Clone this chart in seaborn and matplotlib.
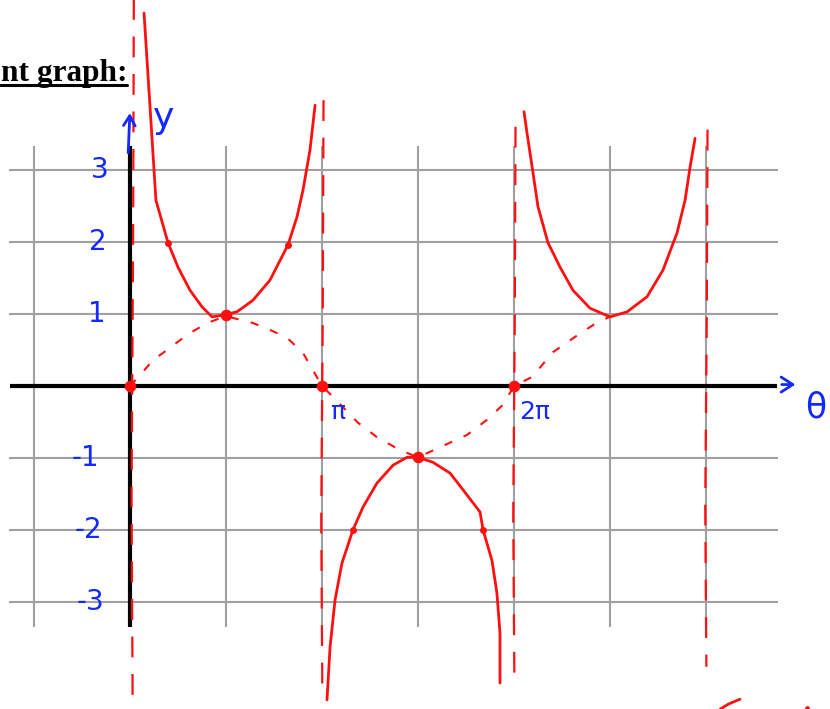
import matplotlib
matplotlib.use("Agg")
import matplotlib.pyplot as plt
import numpy as np
import pandas as pd
import seaborn as sns

# ---- data (theta in multiples of pi, y in units) ----
grid_x = [-0.5, 0.0, 0.5, 1.0, 1.5, 2.0, 2.5, 3.0]
grid_y = [-3, -2, -1, 1, 2, 3]

# upper branch on (0, pi)
b1_x = [0.073, 0.104, 0.135, 0.198, 0.25, 0.3125, 0.375, 0.427, 0.495, 0.557,
        0.64, 0.729, 0.823, 0.870, 0.901, 0.9375, 0.964]
b1_y = [5.18, 3.89, 2.58, 1.99, 1.65, 1.33, 1.10, 0.96, 0.99, 1.03,
        1.19, 1.47, 1.96, 2.35, 2.72, 3.28, 3.90]

# lower branch on (pi, 2pi)
b2_x = [1.026, 1.042, 1.068, 1.104, 1.161, 1.214, 1.286, 1.370, 1.443, 1.5,
        1.578, 1.667, 1.734, 1.823, 1.839, 1.885, 1.911, 1.927, 1.927]
b2_y = [-4.36, -3.625, -2.97, -2.46, -2.0, -1.68, -1.35, -1.10, -0.99, -0.99,
        -1.06, -1.21, -1.44, -1.75, -2.0, -2.42, -2.875, -3.43, -4.125]

# upper branch on (2pi, 3pi)
b3_x = [2.052, 2.068, 2.099, 2.125, 2.177, 2.240, 2.307, 2.396, 2.5, 2.589,
        2.693, 2.776, 2.849, 2.891, 2.917, 2.943]
b3_y = [3.81, 3.51, 2.96, 2.49, 1.99, 1.65, 1.33, 1.08, 0.96, 1.03,
        1.24, 1.61, 2.125, 2.58, 3.04, 3.44]

# start of the next branch past 3pi
b4_x = [3.073, 3.115, 3.177]
b4_y = [-4.49, -4.42, -4.35]

# guide sine curve
sin_x = [0, 0.052, 0.12, 0.193, 0.297, 0.401, 0.5, 0.64, 0.729, 0.818, 0.901, 1.0,
         1.057, 1.1875, 1.286, 1.406, 1.5, 1.615, 1.755, 1.859, 1.943, 2.0,
         2.094, 2.203, 2.333, 2.4375, 2.5]
sin_y = [0, 0.15, 0.36, 0.5, 0.71, 0.875, 0.97, 0.875, 0.78, 0.67, 0.46, 0,
         -0.15, -0.51, -0.71, -0.89, -0.99, -0.85, -0.68, -0.47, -0.26, 0,
         0.125, 0.47, 0.71, 0.89, 0.96]

# vertical asymptotes: position, top, bottom
asym_x = [0.012, 1.0, 2.0, 3.0]
asym_top = [5.4, 3.97, 3.6, 3.56]
asym_bot = [-4.5, -4.36, -4.1, -3.9]

# key points
big_dot_x = [0.0, 1.0, 2.0, 0.5, 1.5]
big_dot_y = [0.0, 0.0, 0.0, 0.98, -0.99]
small_dot_x = [0.198, 0.823, 1.161, 1.839]
small_dot_y = [1.99, 1.96, -2.0, -2.0]

# axis labels
ytick_vals = [3, 2, 1, -1, -2, -3]
ytick_text = ["3", "2", "1", "-1", "-2", "-3"]
ytick_xpos = [-0.156, -0.167, -0.172, -0.234, -0.214, -0.208]
xtick_vals = [1.0, 2.0]
xtick_text = ["π", "2π"]

RED = "#ff1010"
BLUE = "#1428ff"
GRAY = "#a0a0a0"

sns.set_theme(style="white")
plt.rcParams["lines.scale_dashes"] = False
plt.rcParams["lines.solid_joinstyle"] = "round"
plt.rcParams["lines.solid_capstyle"] = "round"
plt.rcParams["font.family"] = ["DejaVu Sans"]

fig = plt.figure(figsize=(8.30, 7.09), dpi=100)
ax = fig.add_axes([0, 0, 1, 1])
ax.set_xlim(-130 / 192, 700 / 192)
ax.set_ylim(-323 / 72, 386 / 72)
ax.axis("off")

# grid
ax.vlines(grid_x, -3.35, 3.33, color=GRAY, lw=1.5, zorder=1)
ax.hlines(grid_y, -0.63, 3.375, color=GRAY, lw=1.5, zorder=1)

# axes
ax.hlines(0, -0.625, 3.37, color="black", lw=3.0, zorder=2)
ax.vlines(0, -3.35, 3.33, color="black", lw=3.0, zorder=2)

# asymptotes
for xv, top, bot in zip(asym_x, asym_top, asym_bot):
    df = pd.DataFrame({"x": [xv + 0.008, xv + 0.004, xv - 0.004, xv + 0.002],
                       "y": [top, top - (top - bot) * 0.35, top - (top - bot) * 0.7, bot]})
    sns.lineplot(data=df, x="x", y="y", sort=False, estimator=None, ax=ax,
                 color=RED, lw=1.6, zorder=3)
    ax.lines[-1].set_dashes([15, 12])

# dashed sine
sns.lineplot(x=sin_x, y=sin_y, sort=False, estimator=None, ax=ax,
             color=RED, lw=1.5, zorder=3)
ax.lines[-1].set_dashes([6, 9])

# cosecant branches
for bx, by in [(b1_x, b1_y), (b2_x, b2_y), (b3_x, b3_y), (b4_x, b4_y)]:
    sns.lineplot(x=bx, y=by, sort=False, estimator=None, ax=ax,
                 color=RED, lw=2.0, zorder=4)

# points
sns.scatterplot(x=big_dot_x, y=big_dot_y, ax=ax, color=RED, s=70,
                edgecolor=RED, linewidth=0, zorder=5)
sns.scatterplot(x=small_dot_x, y=small_dot_y, ax=ax, color=RED, s=25,
                edgecolor=RED, linewidth=0, zorder=5)
ax.scatter([3.528], [-4.47], color=RED, s=6, zorder=5)

# tick labels
for yv, t, xp in zip(ytick_vals, ytick_text, ytick_xpos):
    ax.text(xp, yv, t, color=BLUE, fontsize=20, ha="center", va="center", zorder=6)
for xv, t in zip(xtick_vals, xtick_text):
    ax.text(xv + 0.105 if xv > 1 else xv + 0.08, -0.36, t, color=BLUE,
            fontsize=18, ha="center", va="center", zorder=6)

# axis arrows and names
ax.annotate("", xy=(0.0, 3.83), xytext=(-0.01, 3.2),
            arrowprops=dict(arrowstyle="->,head_length=0.6,head_width=0.35",
                            color=BLUE, lw=2.0), zorder=6)
ax.text(0.177, 3.72, "y", color=BLUE, fontsize=26, ha="center", va="center", zorder=6)
ax.annotate("", xy=(3.48, 0.02), xytext=(3.38, 0.02),
            arrowprops=dict(arrowstyle="->,head_length=0.7,head_width=0.45",
                            color=BLUE, lw=2.0), zorder=6)
ax.text(3.57, -0.3, "θ", color=BLUE, fontsize=25, ha="center", va="center", zorder=6)

# heading
fig.text(127 / 830, 1 - 81 / 709, "nt graph:", fontsize=22.6, fontweight="bold",
         family="Liberation Serif", ha="right", va="baseline", color="black")
fig.add_artist(plt.Line2D([0, 127 / 830], [1 - 85 / 709, 1 - 85 / 709],
                          color="black", lw=2.2, transform=fig.transFigure))

fig.savefig("out.png", dpi=100)
